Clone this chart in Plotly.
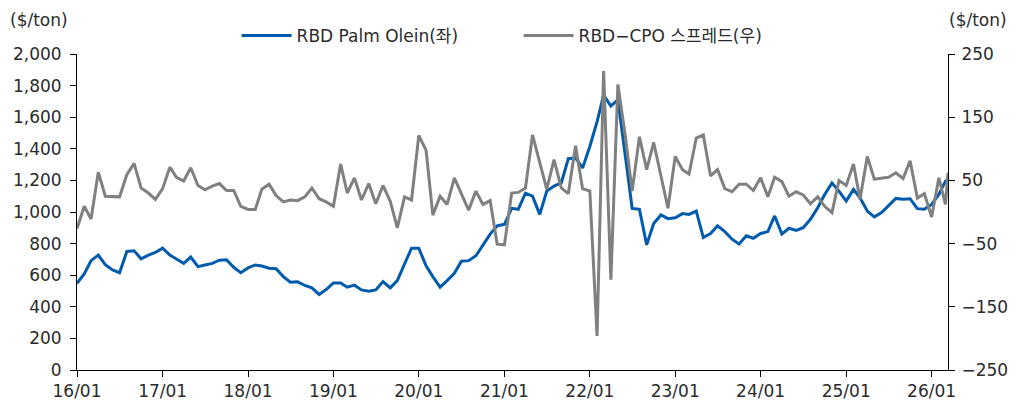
import pandas as pd
import plotly.graph_objects as go

# monthly, Jan 2016 .. Mar 2026, plus one mid-March 2026 reading
months = list(pd.date_range("2016-01-01", periods=123, freq="MS").strftime("%Y-%m-%d")) + ["2026-03-12"]

palm_olein = [
    549, 608, 692, 727, 667, 633, 616, 750, 755, 704, 727, 744,
    771, 727, 702, 675, 715, 654, 665, 675, 695, 698, 650, 616,
    646, 665, 658, 644, 641, 591, 556, 558, 535, 520, 478, 509,
    551, 551, 524, 537, 507, 499, 507, 560, 520, 566, 671, 771,
    771, 660, 591, 524, 566, 612, 688, 692, 723, 792, 860, 912,
    922, 1023, 1017, 1119, 1100, 985, 1132, 1164, 1184, 1337, 1342, 1279,
    1415, 1572, 1740, 1671, 1709, 1363, 1023, 1017, 792, 927, 981, 958,
    964, 990, 985, 1006, 838, 864, 912, 876, 828, 797, 849, 834,
    864, 876, 975, 860, 897, 883, 901, 954, 1027, 1111, 1184, 1132,
    1069, 1143, 1090, 1006, 969, 996, 1038, 1086, 1080, 1084, 1021, 1017,
    1048, 1111, 1195, 1200,
]

rbd_cpo_spread = [
    -26, 9, -11, 63, 25, 25, 24, 59, 77, 38, 30, 20,
    37, 71, 55, 49, 70, 42, 35, 41, 45, 34, 34, 9,
    4, 4, 36, 44, 26, 16, 19, 18, 24, 38, 21, 16,
    9, 76, 30, 54, 19, 45, 13, 42, 17, -25, 24, 19,
    121, 98, -5, 25, 12, 54, 30, 3, 33, 12, 18, -51,
    -52, 30, 31, 38, 122, 80, 36, 83, 38, 29, 105, 37,
    33, -196, 223, -107, 202, 122, 33, 119, 67, 110, 59, 6,
    88, 67, 60, 117, 122, 57, 67, 37, 32, 44, 44, 34,
    54, 24, 55, 48, 25, 32, 27, 13, 24, 9, -1, 50,
    42, 76, 20, 88, 52, 54, 55, 62, 53, 81, 22, 29,
    -8, 54, 12, 62,
]

FONT = "DejaVu Sans, Noto Sans CJK KR"
TEXT = "#2b2b2b"
SIZE = 17

fig = go.Figure()
fig.add_trace(go.Scatter(
    x=months, y=palm_olein, name="RBD Palm Olein(좌)", mode="lines",
    line=dict(color="#005BAC", width=3),
))
fig.add_trace(go.Scatter(
    x=months, y=rbd_cpo_spread, name="RBD−CPO 스프레드(우)", mode="lines",
    line=dict(color="#808080", width=3), yaxis="y2",
))

axis_common = dict(
    showgrid=False, zeroline=False, showline=True, linecolor="#000000", linewidth=1,
    ticks="outside", ticklen=6, tickcolor="#000000", automargin=False,
    tickfont=dict(family=FONT, size=SIZE, color=TEXT),
)

# the page adds an 8px body margin, so the figure is sized to fit inside it
fig.update_layout(
    width=1020, height=392,
    margin=dict(l=69, r=80, t=44, b=30),
    paper_bgcolor="white", plot_bgcolor="white",
    font=dict(family=FONT, size=SIZE, color=TEXT),
    showlegend=True,
    legend=dict(
        orientation="h", x=0.507, xanchor="center",
        yref="container", y=1 - 28 / 392, yanchor="middle",
        font=dict(family=FONT, size=SIZE, color=TEXT), bgcolor="rgba(0,0,0,0)",
        itemwidth=50, entrywidth=217,
    ),
    xaxis=dict(
        axis_common, type="date", range=["2016-01-01", "2026-03-12"],
        tickformat="%y/%m", dtick="M12", tick0="2016-01-01",
    ),
    yaxis=dict(axis_common, range=[0, 2000], dtick=200, tickformat=",",
               ticklabelstandoff=5),
    yaxis2=dict(
        axis_common, overlaying="y", side="right", range=[-250, 250],
        tickvals=[-250, -150, -50, 50, 150, 250], ticklabelstandoff=3,
    ),
    annotations=[
        dict(text="($/ton)", xref="paper", yref="paper", x=-0.044, y=1.107,
             xanchor="center", yanchor="middle", showarrow=False,
             font=dict(family=FONT, size=SIZE, color=TEXT)),
        dict(text="($/ton)", xref="paper", yref="paper", x=1.034, y=1.107,
             xanchor="center", yanchor="middle", showarrow=False,
             font=dict(family=FONT, size=SIZE, color=TEXT)),
    ],
)

fig.write_html("out.html")
